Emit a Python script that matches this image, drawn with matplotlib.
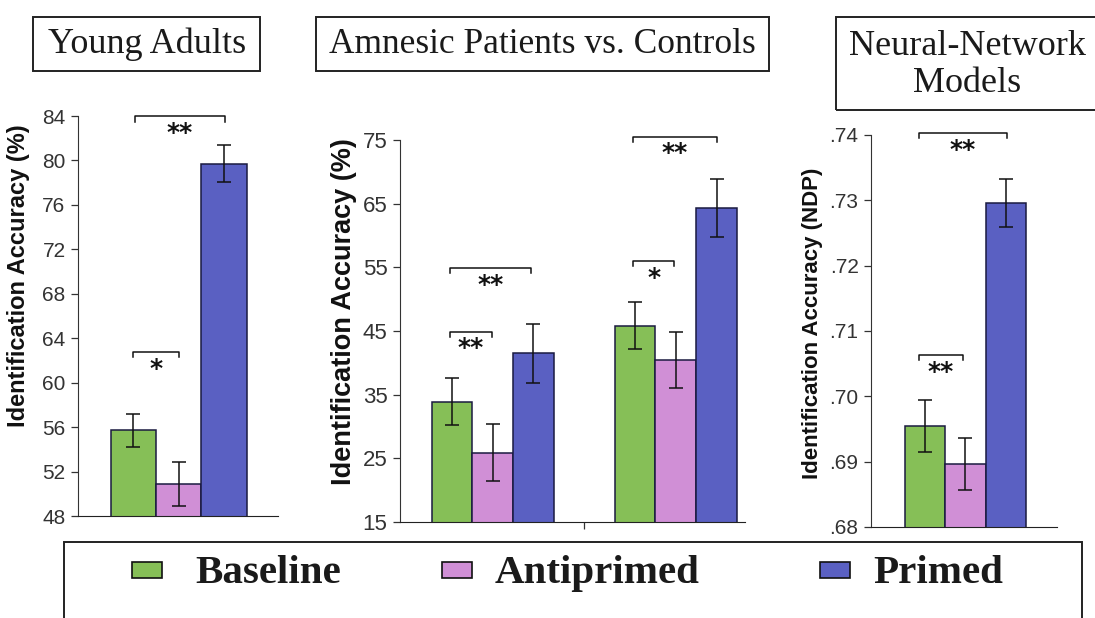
import numpy as np
import matplotlib
matplotlib.use("Agg")
import matplotlib.pyplot as plt
from matplotlib.patches import Rectangle

W, H = 1095, 618

# condition names and bar colours
conditions = ["Baseline", "Antiprimed", "Primed"]
colors = ["#86bf57", "#d08fd6", "#5a60c2"]

# young adults (%)
young_mean = [55.7, 50.9, 79.7]
young_err = [1.45, 2.0, 1.65]

# amnesic patients (group 1) and controls (group 2) (%)
amn_mean = [33.9, 25.9, 41.5]
amn_err = [3.7, 4.5, 4.6]
ctl_mean = [45.8, 40.5, 64.3]
ctl_err = [3.7, 4.4, 4.6]

# neural-network models (NDP)
nn_mean = [0.6955, 0.6896, 0.7296]
nn_err = [0.0040, 0.0040, 0.0037]

plt.rcParams["font.family"] = ["Liberation Sans", "DejaVu Sans"]

fig = plt.figure(figsize=(W / 100, H / 100), dpi=100)


def px_axes(x0, y0, x1, y1):
    # pixel box (top-left origin) -> figure axes
    return fig.add_axes([x0 / W, 1 - y1 / H, (x1 - x0) / W, (y1 - y0) / H])


def style(ax, ylab, fs, tfs, lx, ly):
    for s in ("top", "right"):
        ax.spines[s].set_visible(False)
    ax.spines["left"].set_color("#333333")
    ax.spines["bottom"].set_color("#222222")
    ax.tick_params(axis="y", length=5, width=0.9, colors="#333333",
                   labelsize=tfs, labelcolor="#333333", pad=4)
    ax.set_ylabel(ylab, fontsize=fs, fontweight="bold", color="#111111")
    ax.yaxis.set_label_coords(lx, ly)


def bars(ax, xs, means, errs):
    ax.bar(xs, means, width=1.0, color=colors, edgecolor="#1a1a40",
           linewidth=1.1, zorder=2)
    ax.errorbar(xs, means, yerr=errs, fmt="none", ecolor="#111111",
                elinewidth=1.1, capsize=5, capthick=1.1, zorder=3)


def bracket(ax, x0, x1, y, label, drop, fs=18):
    ax.plot([x0, x0, x1, x1], [y - drop, y, y, y - drop], color="#111111",
            lw=1.1, clip_on=False, zorder=4)
    ax.text((x0 + x1) / 2, y - drop * 0.9, label, ha="center", va="top",
            fontsize=fs, fontweight="bold", color="#111111",
            family="DejaVu Sans")


# Young adults
ax1 = px_axes(78, 116, 278, 516)
x1 = np.arange(3)
bars(ax1, x1, young_mean, young_err)
ax1.set_xlim(-1.22, 3.19)
ax1.set_ylim(48, 84)
ax1.set_yticks(np.arange(48, 85, 4))
ax1.set_xticks([])
style(ax1, "Identification Accuracy (%)", 17, 15, -0.24, 0.60)
bracket(ax1, 0.0, 1.0, 62.8, "*", 0.5)
bracket(ax1, 0.03, 2.03, 84.0, "**", 0.5)

# Amnesic patients vs. controls
ax2 = px_axes(400, 140, 745, 522)
g1 = np.arange(3)
g2 = np.arange(3) + 4.5
bars(ax2, g1, amn_mean, amn_err)
bars(ax2, g2, ctl_mean, ctl_err)
ax2.set_xlim(-1.28, 7.2)
ax2.set_ylim(15, 75)
ax2.set_yticks(np.arange(15, 76, 10))
ax2.set_xticks([3.25])
ax2.set_xticklabels([])
ax2.tick_params(axis="x", length=5, width=0.9, colors="#333333")
style(ax2, "Identification Accuracy (%)", 19.5, 16, -0.125, 0.55)
bracket(ax2, -0.05, 0.98, 44.9, "**", 0.8)
bracket(ax2, -0.05, 1.95, 54.9, "**", 0.8)
bracket(ax2, 4.45, 5.46, 56.0, "*", 0.8)
bracket(ax2, 4.45, 6.5, 75.5, "**", 0.8)

# Neural-network models
ax3 = px_axes(871, 135, 1057, 527)
x3 = np.arange(3)
bars(ax3, x3, nn_mean, nn_err)
ax3.set_xlim(-1.33, 3.26)
ax3.set_ylim(0.68, 0.74)
ax3.set_yticks(np.arange(0.68, 0.7401, 0.01))
ax3.set_yticklabels([".68", ".69", ".70", ".71", ".72", ".73", ".74"])
ax3.set_xticks([])
style(ax3, "Identification Accuracy (NDP)", 16, 15, -0.26, 0.52)
bracket(ax3, -0.15, 0.94, 0.7063, "**", 0.0008)
bracket(ax3, -0.15, 2.02, 0.7403, "**", 0.0008)


# boxed panel titles
def fig_box(x0, y0, x1, y1):
    fig.patches.append(Rectangle((x0 / W, 1 - y1 / H), (x1 - x0) / W,
                                 (y1 - y0) / H, transform=fig.transFigure,
                                 fill=False, edgecolor="#222222", lw=1.4))


def fig_text(x, y, s, **kw):
    fig.text(x / W, 1 - y / H, s, family=["Liberation Serif", "DejaVu Serif"],
             color="#1a1a1a", **kw)


fig_box(33, 17, 260, 71)
fig_text(147, 53, "Young Adults", ha="center", va="baseline", fontsize=26)
fig_box(316, 17, 769, 71)
fig_text(542, 53, "Amnesic Patients vs. Controls", ha="center",
         va="baseline", fontsize=25.5)
fig_box(836, 17, 1110, 110)
fig_text(967, 55, "Neural-Network", ha="center", va="baseline", fontsize=26)
fig_text(967, 92, "Models", ha="center", va="baseline", fontsize=26)

# legend strip
fig_box(64, 542, 1082, 640)
marker_x = [132, 442, 820]
text_x = [195, 495, 873]
for mx, tx, c, name in zip(marker_x, text_x, colors, conditions):
    fig.patches.append(Rectangle((mx / W, 1 - 578 / H), 30 / W, 16 / H,
                                 transform=fig.transFigure, facecolor=c,
                                 edgecolor="#111111", lw=1.2))
    fig_text(tx, 583, name, ha="left", va="baseline", fontsize=29.5,
             fontweight="bold")

fig.savefig("out.png", dpi=100)
